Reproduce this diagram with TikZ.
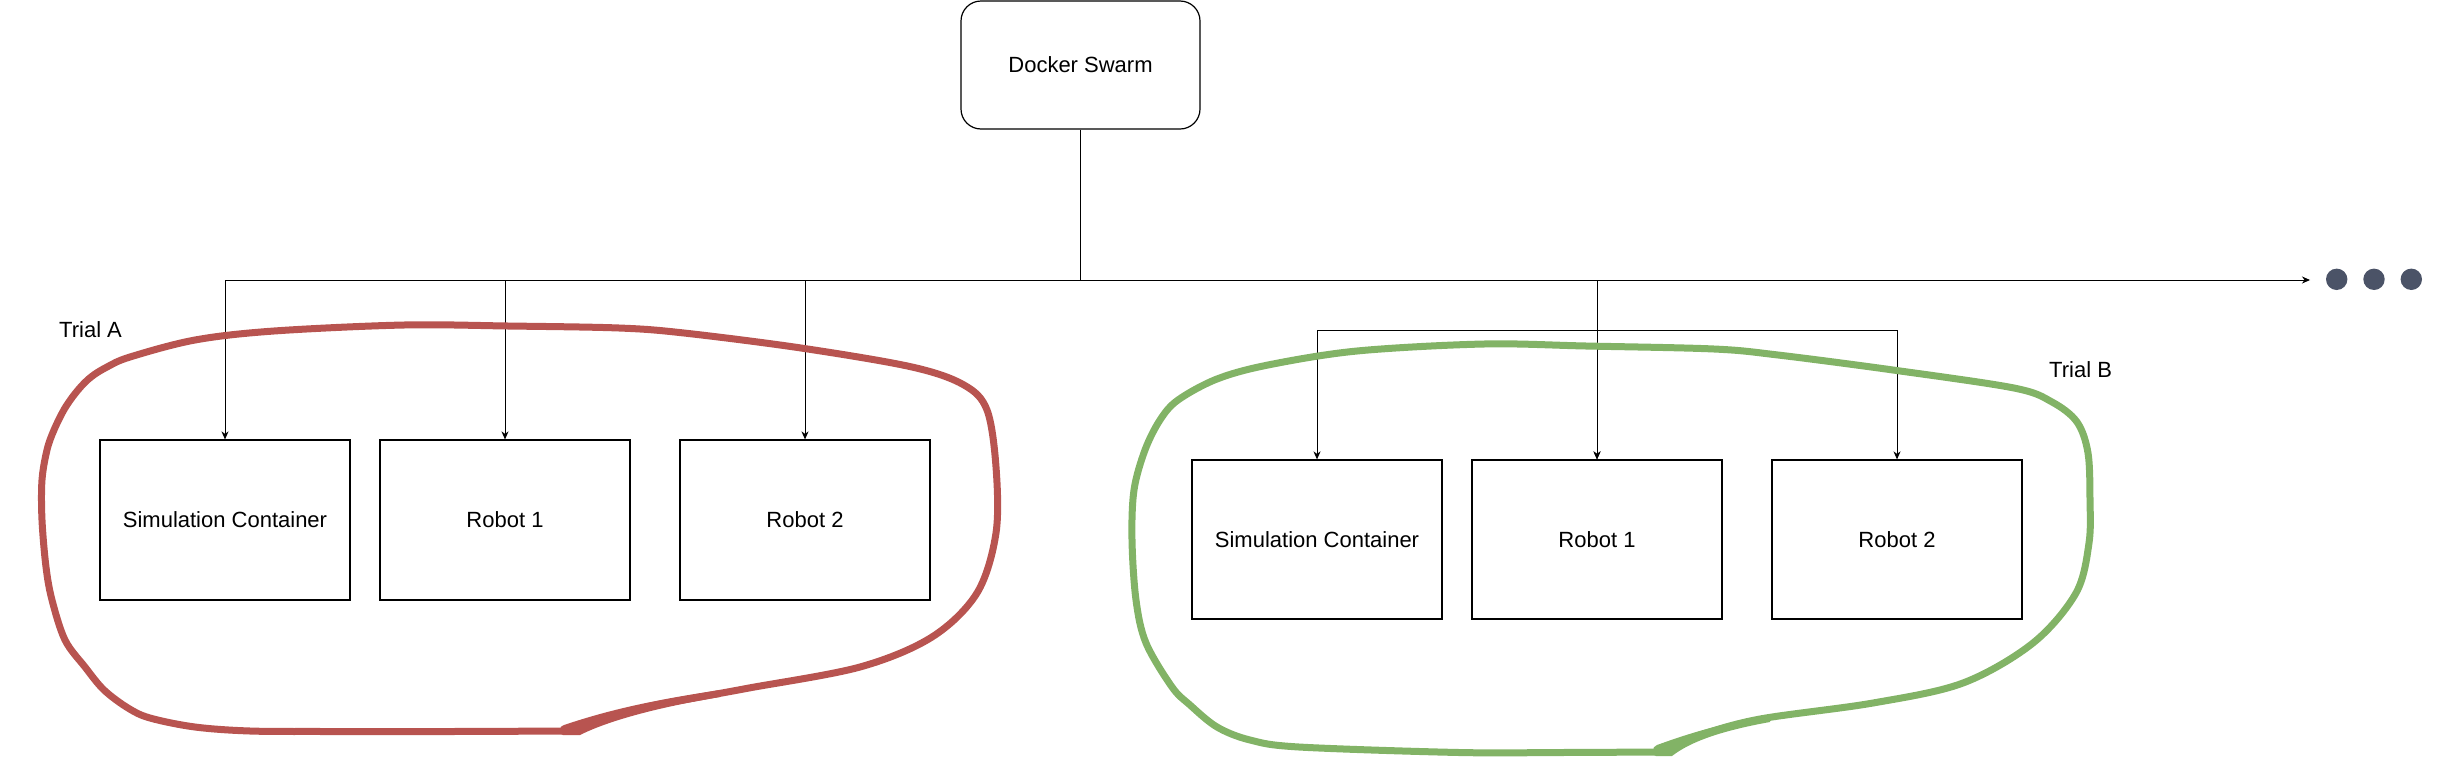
\documentclass[tikz,border=0pt]{standalone}
\usepackage{fontspec}
\setmainfont{Liberation Sans}
\usetikzlibrary{arrows.meta}
\definecolor{trialred}{HTML}{B85450}
\definecolor{trialgreen}{HTML}{82B366}
\definecolor{dotgrey}{HTML}{4B5367}
\begin{document}
\begin{tikzpicture}[x=1pt,y=-1pt,
  lbl/.style={font=\fontsize{22}{26}\selectfont},
  box/.style={draw, line width=1.2pt, minimum width=250pt, minimum height=160pt, inner sep=0pt, lbl},
  swarm/.style={draw, line width=1.2pt, rounded corners=20pt, minimum width=239pt, minimum height=128pt, inner sep=0pt, lbl},
  conn/.style={line width=1pt},
  arr/.style={conn, -{Stealth[length=8pt,width=7pt,inset=2.5pt]}},
  dot/.style={circle, fill=dotgrey, minimum size=21.4pt, inner sep=0pt},
  trial/.style={line width=7pt, line cap=round, line join=round}
]
\useasboundingbox (0,0) rectangle (2439,758);

% nodes
\node[swarm] (swarm) at (1080.5,65) {Docker Swarm};

\node[box] (simA) at (225,520) {Simulation Container};
\node[box] (r1A)  at (505,520) {Robot 1};
\node[box] (r2A)  at (805,520) {Robot 2};

\node[box, minimum height=159pt] (simB) at (1317,539.5) {Simulation Container};
\node[box, minimum height=159pt] (r1B)  at (1597,539.5) {Robot 1};
\node[box, minimum height=159pt] (r2B)  at (1897,539.5) {Robot 2};

\node[lbl, anchor=west, inner sep=0pt] (trialA) at (59,330) {Trial A};
\node[lbl, anchor=west, inner sep=0pt] (trialB) at (2049,370) {Trial B};

\node[dot] (d1) at (2336.7,279.3) {};
\node[dot] (d2) at (2374,279.3) {};
\node[dot] (d3) at (2411.3,279.3) {};

% connectors
\coordinate (hl) at (225,280);
\coordinate (hr) at (2310,280);
\coordinate (bj) at (1597,330);
\draw[conn] (swarm.south) -- (swarm.south |- hl);
\draw[arr] (hl) -- (hr);
\draw[arr] (hl) -- (simA.north);
\draw[arr] (r1A.north |- hl) -- (r1A.north);
\draw[arr] (r2A.north |- hl) -- (r2A.north);
\draw[arr] (r1B.north |- hl) -- (r1B.north);
\draw[arr] (bj) -| (simB.north);
\draw[arr] (bj) -| (r2B.north);
\draw[arr] (bj) -- (r1B.north);

% trial outlines
\draw[trial, trialred] plot[smooth, tension=0.55] coordinates {
 (567,731) (450,731.5) (326,731.5) (250,731) (195,727) (150,718) (128,708) (104,690)
 (85,667) (65,640) (52,600) (46,567) (42,520) (42,480) (47,450) (54,430)
 (65,408) (78,390) (91,377) (107,367) (130,357) (195,340) (274,331) (404,325)
 (508,326) (619,328) (684,333) (801,348) (912,367) (964,385) (987,410)
 (996,467) (996,533) (977,593) (932,637) (860,667) (749,688) (700,697)
 (651,706) (606,718) (570,730)};
\fill[trialred] (560,730) .. controls (560,727) and (561,726) .. (564,725)
  .. controls (600,713) and (640,702) .. (720,690) -- (720,697)
  .. controls (660,707) and (610,720) .. (580,735) -- (563,735)
  .. controls (560,735) and (560,733) .. (560,730) -- cycle;

\draw[trial, trialgreen] plot[smooth, tension=0.55] coordinates {
 (1657,752) (1560,752.5) (1459,752.5) (1299,747) (1250,740) (1217,727) (1190,705)
 (1172,687) (1146,643) (1136,600) (1132,540) (1134,490) (1145,450) (1160,420)
 (1178,400) (1217,379) (1268,365) (1357,351) (1484,344) (1586,346) (1714,349)
 (1778,355) (1893,370) (2014,388) (2052,402) (2077,422) (2088,453) (2090,500)
 (2089,543) (2076,593) (2033,643) (1963,683) (1873,703) (1760,719) (1700,735)
 (1662,750)};
\fill[trialgreen] (1653,751) .. controls (1653,748) and (1654,746) .. (1657,745)
  .. controls (1690,733) and (1720,724) .. (1770,715) -- (1770,722)
  .. controls (1720,731) and (1690,742) .. (1672,756) -- (1656,756)
  .. controls (1653,756) and (1653,754) .. (1653,751) -- cycle;
\end{tikzpicture}
\end{document}
